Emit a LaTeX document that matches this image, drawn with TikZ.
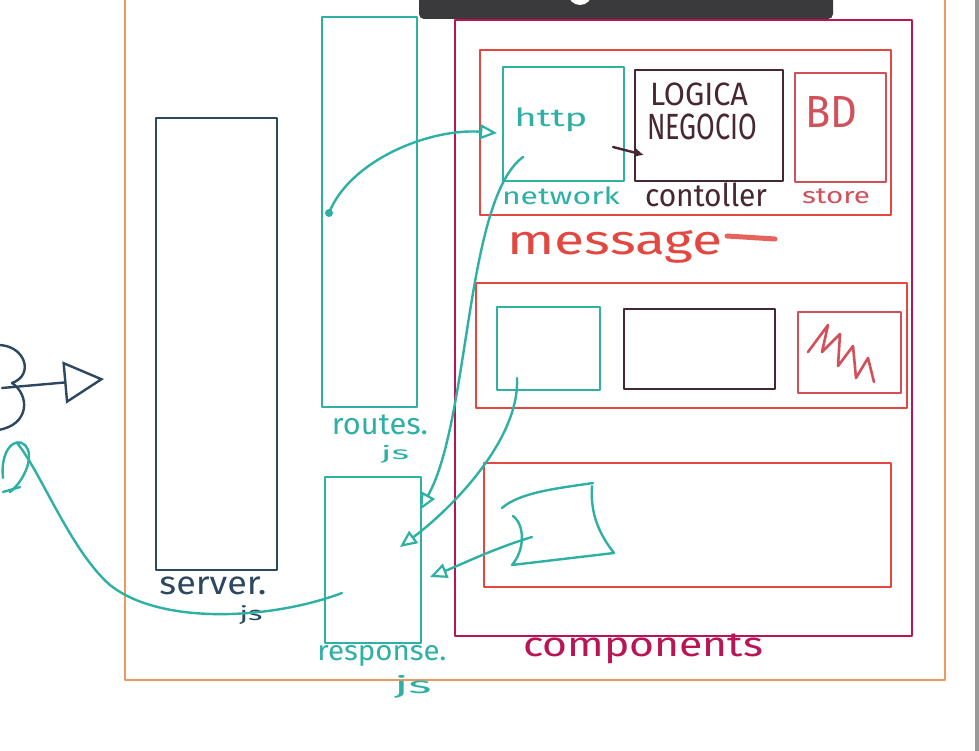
\documentclass[tikz,border=0pt]{standalone}
\usepackage{fontspec}
\usepackage{graphicx}
\setmainfont{Fira Sans}
\usetikzlibrary{arrows.meta,fit}
\definecolor{orng}{RGB}{236,152,96}
\definecolor{navy}{RGB}{44,72,96}
\definecolor{tl}{RGB}{46,176,164}
\definecolor{crim}{RGB}{185,20,85}
\definecolor{rd}{RGB}{226,72,64}
\definecolor{dk}{RGB}{72,40,48}
\definecolor{strd}{RGB}{210,80,90}
\definecolor{bar}{RGB}{58,58,60}
\newcommand{\hw}[3]{\resizebox*{#1pt}{#2pt}{#3}}
\begin{document}
\begin{tikzpicture}[x=1pt,y=-1pt,line cap=round,line join=round,
  box/.style={draw=#1,line width=2.6pt,inner sep=0pt},
  lbl/.style={inner sep=0pt,text=#1},
  wire/.style={draw=tl,line width=2.4pt},
  tip/.style={-{Triangle[open,length=17pt,width=15pt,line width=2.2pt]}}]
\useasboundingbox (0,0) rectangle (979,751);
\clip (0,0) rectangle (979,751);
\fill[white] (0,0) rectangle (979,751);
% outer frame
\draw[orng,line width=2.6pt] (125,-20) -- (125,680) -- (945,680) -- (945,-20);
% top bar
\fill[bar,rounded corners=5pt] (419,-20) rectangle (833,19);
\fill[white] (580,-7) circle (12);
\fill[gray!80] (975,0) rectangle (979,751);
% boxes
\node[box=navy,fit={(156,118)(277,570)}] (server) {};
\node[box=tl,fit={(322,17)(417,407)}] (routes) {};
\node[box=tl,fit={(325,477)(421,643)}] (response) {};
\node[box=crim,fit={(455,20)(912,636)}] (comp) {};
\node[box=rd,fit={(480,50)(891,215)}] (msg) {};
\node[box=tl,fit={(503,67)(624,181)}] (http) {};
\node[box=dk,fit={(635,70)(783,181)}] (ctrl) {};
\node[box=strd,fit={(795,73)(886,182)}] (store) {};
\node[box=rd,fit={(476,283)(907,408)}] (row2) {};
\node[box=tl,fit={(497,307)(600,390)}] (net2) {};
\node[box=dk,fit={(624,309)(775,389)}] (ctrl2) {};
\node[box=strd,fit={(798,312)(901,393)}] (store2) {};
\node[box=rd,fit={(484,463)(891,587)}] (row3) {};
% labels
\node[lbl=navy] (lserver) at (213,586) {\hw{107}{18}{server.}};
\node[lbl=navy] (lserverjs) at (251,615) {\hw{23}{19}{js}};
\node[lbl=tl] (lroutes) at (380,425) {\hw{96}{20}{routes.}};
\node[lbl=tl] (lroutesjs) at (395,454) {\hw{28}{18}{js}};
\node[lbl=tl] (lresp) at (382,656) {\hw{129}{21}{response.}};
\node[lbl=tl] (lrespjs) at (413,687) {\hw{37}{23}{js}};
\node[lbl=crim] (lcomp) at (643,649) {\hw{240}{30}{components}};
\node[lbl=rd] (lmsg) at (615,247) {\hw{215}{33}{message}};
\node[lbl=tl] (lnet) at (561,196) {\hw{118}{18}{network}};
\node[lbl=dk] (lctrl) at (706,195) {\hw{122}{24}{contoller}};
\node[lbl=strd] (lstore) at (836,196) {\hw{68}{15}{store}};
\node[lbl=tl] (lhttp) at (551,120) {\hw{73}{24}{http}};
\node[lbl=dk] (llog) at (699,94) {\hw{98}{23}{LOGICA}};
\node[lbl=dk] (lneg) at (702,127) {\hw{110}{26}{NEGOCIO}};
\node[lbl=strd] (lbd) at (831,112) {\hw{52}{31}{BD}};
% message dash
\draw[rd!85!white,line width=5pt] (727,236) -- (775,239);
% scribble in store2
\draw[strd,line width=2.6pt] (808,352) -- (828,325) -- (822,352) -- (840,334) -- (838,366) -- (853,346) -- (856,378) -- (868,358) -- (874,382);
% flag shape
\draw[tl,line width=2.4pt] (502,508) .. controls (520,492) and (560,488) .. (593,483);
\draw[tl,line width=2.4pt] (592,486) .. controls (590,515) and (600,535) .. (614,553) -- (512,565) .. controls (525,550) and (525,525) .. (513,516);
% navy scribble and arrow on the left
\draw[navy,line width=2.4pt] (-2,345) .. controls (25,345) and (35,375) .. (12,383) .. controls (30,395) and (30,425) .. (-2,430);
\coordinate (lfrom) at (2,388);
\coordinate (lto) at (104,379);
\draw[navy,line width=2.4pt,-{Triangle[open,length=40pt,width=42pt,line width=2.4pt]}] (lfrom) -- (lto);
% connectors
\coordinate (rdot) at (329,213);
\coordinate (hin) at (497,133);
\fill[tl] (rdot) circle (4);
\draw[wire,tip] (rdot) .. controls (350,160) and (430,128) .. (hin);
\coordinate (hout) at (523,157);
\coordinate (ra) at (420,510);
\draw[wire,tip] (hout) .. controls (465,200) and (470,420) .. (ra);
\coordinate (n2out) at (517,378);
\coordinate (rb) at (400,547);
\draw[wire,tip] (n2out) .. controls (520,440) and (450,510) .. (rb);
\coordinate (fout) at (532,537);
\coordinate (rc) at (430,577);
\draw[wire,tip] (fout) .. controls (495,548) and (460,565) .. (rc);
\coordinate (rd) at (342,593);
\coordinate (lend) at (17,443);
\draw[wire] (rd) .. controls (270,620) and (160,625) .. (110,585) .. controls (70,550) and (40,470) .. (lend);
\draw[tl,line width=2.4pt] (3,478) .. controls (0,450) and (15,436) .. (25,445) .. controls (35,455) and (25,480) .. (10,492);
\draw[tl,line width=2.4pt] (3,492) -- (20,487);
% http -> controller
\coordinate (cin) at (644,155);
\draw[dk,line width=2.4pt,-{Latex[length=9pt,width=9pt]}] (613,147) -- (cin);
\end{tikzpicture}
\end{document}
